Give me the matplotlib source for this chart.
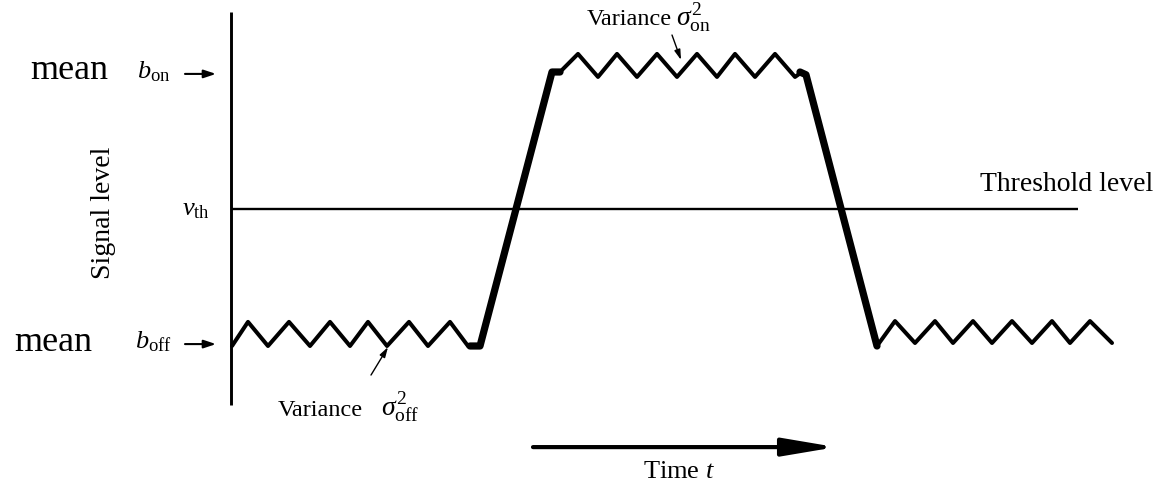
import matplotlib
matplotlib.use("Agg")
import matplotlib.pyplot as plt

plt.rcParams['font.family'] = ['Liberation Serif', 'DejaVu Serif']
plt.rcParams['mathtext.fontset'] = 'custom'
plt.rcParams['mathtext.rm'] = 'Liberation Serif'
plt.rcParams['mathtext.it'] = 'Liberation Serif:italic'
plt.rcParams['mathtext.bf'] = 'Liberation Serif:bold'

# ---- data (time in arbitrary units, signal level normalised: b_off = 0, b_on = 1) ----
B_OFF = 0.0
B_ON = 1.0
V_TH = 0.5

off_left_t = [232, 248, 268, 289, 310, 330, 350, 368, 387, 409, 428, 450, 468, 472]
off_left_v = [0.0, 0.088, 0.0, 0.088, 0.0, 0.088, 0.0, 0.088, 0.0, 0.088, 0.0, 0.088, 0.0, 0.0]

rise_t = [470, 480, 552, 560]
rise_v = [0.0, 0.0, 1.0, 1.0]

on_t = [560, 578, 598, 617, 637, 657, 677, 697, 717, 735, 755, 775, 795, 802]
on_v = [1.0, 1.066, 0.982, 1.066, 0.982, 1.066, 0.982, 1.066, 0.982, 1.066, 0.982, 1.066, 0.982, 1.0]

fall_t = [800, 806, 877]
fall_v = [1.0, 0.99, 0.0]

off_right_t = [877, 895, 915, 935, 953, 973, 992, 1012, 1032, 1052, 1070, 1090, 1112]
off_right_v = [0.0, 0.091, 0.011, 0.091, 0.011, 0.091, 0.011, 0.091, 0.011, 0.091, 0.011, 0.091, 0.011]

axis_t = [231, 231]
axis_v = [1.219, -0.215]
thr_t = [231, 1078]

# ---- figure ----
fig = plt.figure(figsize=(11.61, 4.91), dpi=100)
ax = fig.add_axes([0, 0, 1, 1])
ax.set_xlim(0, 1161)
ax.set_ylim((346 - 491) / 274, 346 / 274)
ax.axis('off')

k = 'black'
ax.plot(axis_t, axis_v, color=k, lw=2.1, solid_capstyle='butt')
ax.plot(thr_t, [V_TH, V_TH], color=k, lw=1.7, solid_capstyle='butt')

wave_kw = dict(color=k, lw=2.9, solid_joinstyle='round', solid_capstyle='round')
ax.plot(off_left_t, off_left_v, **wave_kw)
ax.plot(on_t, on_v, **wave_kw)
ax.plot(off_right_t, off_right_v, **wave_kw)
thick_kw = dict(color=k, lw=5.2, solid_joinstyle='round', solid_capstyle='round')
ax.plot(rise_t, rise_v, **thick_kw)
ax.plot(fall_t, fall_v, **thick_kw)

# labels on the left
ax.text(30, 0.974, 'mean', fontsize=26, ha='left', va='baseline')
ax.text(14, -0.018, 'mean', fontsize=26, ha='left', va='baseline')
ax.text(137, 0.978, r'$b_{\mathrm{on}}$', fontsize=19, ha='left', va='baseline')
ax.text(135, -0.007, r'$b_{\mathrm{off}}$', fontsize=19, ha='left', va='baseline')
ax.text(182, 0.478, r'$v_{\mathrm{th}}$', fontsize=19, ha='left', va='baseline')
ax.text(103, 0.485, 'Signal level', fontsize=20, rotation=90, ha='center', va='center')

small_arrow = dict(arrowstyle='-|>,head_length=0.6,head_width=0.2', color=k, lw=1.5,
                   mutation_scale=12, shrinkA=0, shrinkB=0)
ax.annotate('', xy=(216, 0.993), xytext=(185, 0.993), arrowprops=small_arrow)
ax.annotate('', xy=(216, 0.007), xytext=(185, 0.007), arrowprops=small_arrow)

ax.text(1153, 0.567, 'Threshold level', fontsize=20, ha='right', va='baseline')

# variance annotations
ax.text(587, 1.170, 'Variance', fontsize=17.5, ha='left', va='baseline')
ax.text(676, 1.170, r'$\sigma^{2}_{\mathrm{on}}$', fontsize=20, ha='left', va='baseline')
ax.text(278, -0.255, 'Variance', fontsize=17.5, ha='left', va='baseline')
ax.text(381, -0.255, r'$\sigma^{2}_{\mathrm{off}}$', fontsize=20, ha='left', va='baseline')
thin_arrow = dict(arrowstyle='-|>,head_length=0.5,head_width=0.15', color=k, lw=1.0,
                  mutation_scale=12, shrinkA=0, shrinkB=0)
ax.annotate('', xy=(681, 1.044), xytext=(672, 1.135), arrowprops=thin_arrow)
ax.annotate('', xy=(388, -0.004), xytext=(371, -0.106), arrowprops=thin_arrow)

# time arrow
ax.annotate('', xy=(836, -0.369), xytext=(533, -0.369),
            arrowprops=dict(arrowstyle='-|>,head_length=1.6,head_width=0.27', color=k, lw=3.0,
                            mutation_scale=20, shrinkA=0, shrinkB=0))
ax.text(643, -0.482, r'Time $t$', fontsize=19, ha='left', va='baseline')

fig.savefig('out.png', dpi=100)
